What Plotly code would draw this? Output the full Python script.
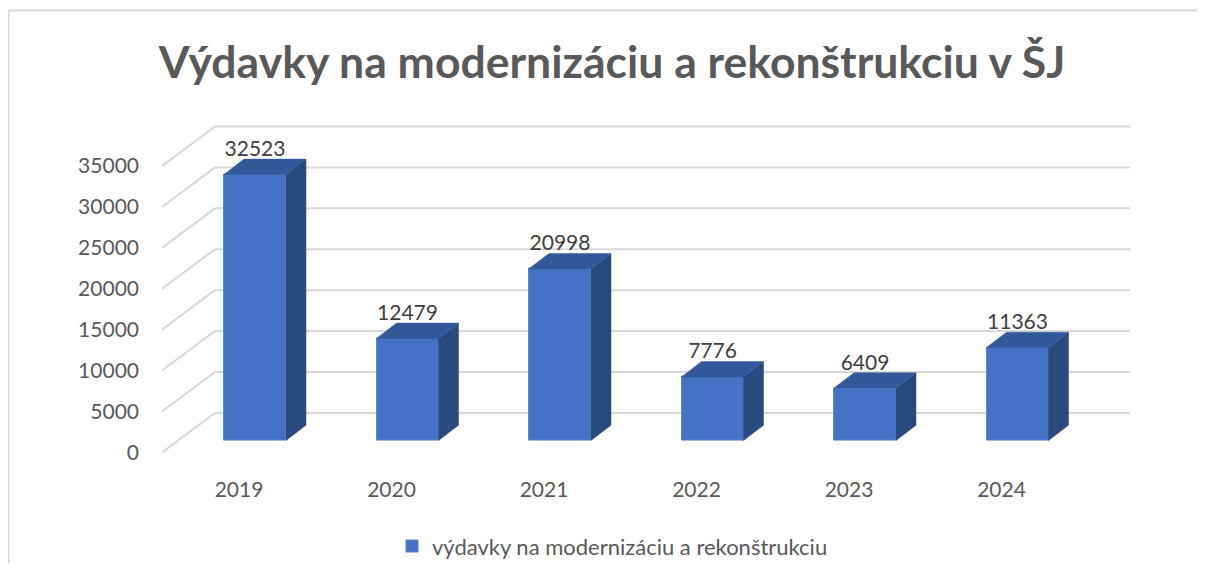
import plotly.graph_objects as go

# ---- data ----
years = ["2019", "2020", "2021", "2022", "2023", "2024"]
values = [32523, 12479, 20998, 7776, 6409, 11363]
y_ticks = [0, 5000, 10000, 15000, 20000, 25000, 30000, 35000]
series_name = "výdavky na modernizáciu a rekonštrukciu"
title_text = "Výdavky na modernizáciu a rekonštrukciu v ŠJ"

# ---- geometry (pseudo 3D); pixel values are page pixels ----
OFF = 8                              # page body margin
W, H = 1205 - 2 * OFF, 578 - 2 * OFF  # figure size (fits page without scrolling)
PX_L, PX_R = 162, 1130               # plot area, page pixels
PX_T, PX_B = 120, 462
CAT_PX = 152.5                       # pixels per category
X0_PX = 255                          # pixel of category 0 (front face centre)
Y0_PX = 458                          # pixel of value 0 on front plane
K = 290 / 35000                      # pixels per unit value


def fx(p):  # page px -> paper fraction (x)
    return (p - OFF) / W


def fy(p):  # page px -> paper fraction (y)
    return 1 - (p - OFF) / H


ux = 1 / CAT_PX
uy = 1 / K

x_min = (PX_L - X0_PX) * ux
x_max = (PX_R - X0_PX) * ux
y_min = -(PX_B - Y0_PX) * uy
y_max = (Y0_PX - PX_T) * uy

wall_dx, wall_dy = 53 * ux, 40 * uy        # depth of floor / side wall
bar_half = 31 * ux                          # half width of front face
bar_dx, bar_dy = 20 * ux, 15.5 * uy         # bar depth
bar_base = 12 * uy                          # front face base above front 0
label_off = 24 * uy
label_shift = -16 * ux                      # category labels shift

FRONT = "#4472C4"
TOP = "#33589A"
SIDE = "#2A4A7E"
GRID = "#D9D9D9"
FONT = "Lato"

xs = list(range(len(years)))

fig = go.Figure()

# front faces
fig.add_trace(go.Bar(
    x=xs, y=values, base=[bar_base] * len(values), width=2 * bar_half,
    marker=dict(color=FRONT, line=dict(color="#5E86CE", width=1)),
    name=series_name, showlegend=True, hoverinfo="skip",
))

# side and top faces
for i, v in enumerate(values):
    xl, xr = i - bar_half, i + bar_half
    b, t = bar_base, bar_base + v
    fig.add_trace(go.Scatter(
        x=[xr, xr + bar_dx, xr + bar_dx, xr, xr],
        y=[b, b + bar_dy, t + bar_dy, t, b],
        fill="toself", fillcolor=SIDE, mode="lines",
        line=dict(color=SIDE, width=0.5), showlegend=False, hoverinfo="skip",
    ))
    fig.add_trace(go.Scatter(
        x=[xl, xr, xr + bar_dx, xl + bar_dx, xl],
        y=[t, t, t + bar_dy, t + bar_dy, t],
        fill="toself", fillcolor=TOP, mode="lines",
        line=dict(color=TOP, width=0.5), showlegend=False, hoverinfo="skip",
    ))

# data labels
fig.add_trace(go.Scatter(
    x=xs, y=[bar_base + v + label_off for v in values],
    mode="text", text=[str(v) for v in values],
    textposition="middle center",
    textfont=dict(family=FONT, size=21, color="#404040"),
    showlegend=False, hoverinfo="skip",
))

# gridlines: side wall diagonals + back wall horizontals
shapes = []
for t in y_ticks:
    shapes.append(dict(type="line", xref="x", yref="y", layer="below",
                       x0=x_min, y0=t, x1=x_min + wall_dx, y1=t + wall_dy,
                       line=dict(color=GRID, width=2)))
    shapes.append(dict(type="line", xref="x", yref="y", layer="below",
                       x0=x_min + wall_dx, y0=t + wall_dy, x1=x_max, y1=t + wall_dy,
                       line=dict(color=GRID, width=2)))
# chart border (top and left)
shapes.append(dict(type="line", xref="paper", yref="paper", x0=fx(8.5), x1=1.0,
                   y0=fy(10.5), y1=fy(10.5), line=dict(color=GRID, width=2)))
shapes.append(dict(type="line", xref="paper", yref="paper", x0=fx(8.5), x1=fx(8.5),
                   y0=0, y1=fy(10.5), line=dict(color=GRID, width=2)))

fig.update_layout(
    width=W, height=H,
    margin=dict(l=0, r=0, t=0, b=0),
    paper_bgcolor="white", plot_bgcolor="rgba(0,0,0,0)",
    shapes=shapes,
    title=dict(text="<b>" + title_text + "</b>", x=fx(612), xanchor="center",
               y=fy(62), yanchor="middle", yref="container",
               font=dict(family=FONT, size=44.5, color="#595959")),
    xaxis=dict(domain=[fx(PX_L), fx(PX_R)], range=[x_min, x_max],
               tickvals=[i + label_shift for i in xs], ticktext=years,
               showgrid=False, zeroline=False, showline=False,
               ticks="", ticklabelstandoff=19,
               tickfont=dict(family=FONT, size=21, color="#595959")),
    yaxis=dict(domain=[fy(PX_B), fy(PX_T)], range=[y_min, y_max],
               tickvals=y_ticks, ticktext=[str(t) for t in y_ticks],
               showgrid=False, zeroline=False, showline=False,
               ticks="", ticklabelstandoff=22,
               tickfont=dict(family=FONT, size=21, color="#595959")),
    legend=dict(orientation="h", x=fx(392), xanchor="left",
                y=fy(553), yanchor="middle",
                font=dict(family=FONT, size=22, color="#595959")),
    bargap=0,
)

fig.write_html("out.html")
